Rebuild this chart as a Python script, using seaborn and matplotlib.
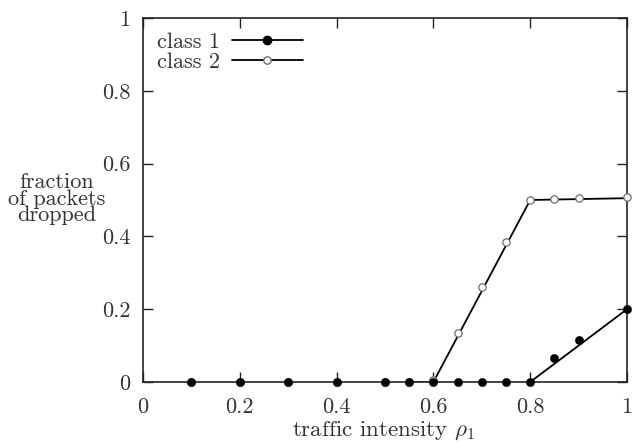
import matplotlib
matplotlib.use("Agg")
import matplotlib.pyplot as plt
import seaborn as sns
import pandas as pd
from matplotlib.lines import Line2D

# data
rho = [0.1, 0.2, 0.3, 0.4, 0.5, 0.55, 0.6, 0.65, 0.7, 0.75, 0.8, 0.85, 0.9, 1.0]
class1 = [0, 0, 0, 0, 0, 0, 0, 0, 0, 0, 0, 0.067, 0.115, 0.2]
class2 = [0, 0, 0, 0, 0, 0, 0.005, 0.135, 0.26, 0.385, 0.5, 0.502, 0.505, 0.507]
line1_x = [0.8, 1.0]
line1_y = [0.0, 0.2]
line2_x = [0.55, 0.6, 0.8, 1.0]
line2_y = [0.0, 0.0, 0.5, 0.505]
ticks = [0, 0.2, 0.4, 0.6, 0.8, 1]
tick_labels = ["0", "0.2", "0.4", "0.6", "0.8", "1"]

sns.set_style("ticks")
plt.rcParams["font.family"] = ["cmr10", "DejaVu Serif"]
plt.rcParams["mathtext.fontset"] = "cm"
plt.rcParams["axes.formatter.use_mathtext"] = True

FS = 16
fig = plt.figure(figsize=(6.33, 4.43), dpi=100)
L, R, T, B = 143, 627, 18, 382
ax = fig.add_axes([L / 633, 1 - B / 443, (R - L) / 633, (B - T) / 443])

df1 = pd.DataFrame({"x": line1_x, "y": line1_y})
df2 = pd.DataFrame({"x": line2_x, "y": line2_y})
sns.lineplot(data=df2, x="x", y="y", ax=ax, color="black", linewidth=1.3, sort=False)
sns.lineplot(data=df1, x="x", y="y", ax=ax, color="black", linewidth=1.3, sort=False)

p2 = pd.DataFrame({"x": rho, "y": class2})
p1 = pd.DataFrame({"x": rho, "y": class1})
sns.scatterplot(data=p2, x="x", y="y", ax=ax, s=28, facecolor="white",
                edgecolor="#6e6e6e", linewidth=0.9, marker="o", zorder=3, clip_on=False)
sns.scatterplot(data=p1, x="x", y="y", ax=ax, s=36, color="black",
                edgecolor="black", linewidth=0.3, marker="o", zorder=4, clip_on=False)

ax.set_xlim(0, 1)
ax.set_ylim(0, 1)
ax.set_xticks(ticks)
ax.set_xticklabels(tick_labels)
ax.set_yticks(ticks)
ax.set_yticklabels(tick_labels)
ax.tick_params(direction="in", length=7, width=1, top=True, right=True,
               labelsize=FS, colors="#222222", labelcolor="#333333")
ax.tick_params(axis="x", pad=11)
ax.tick_params(axis="y", pad=9)
for s in ax.spines.values():
    s.set_visible(True)
    s.set_linewidth(1.2)
    s.set_color("#222222")

ax.set_xlabel("")
ax.set_ylabel("")
fig.text(383 / 633, 1 - 436 / 443, r"traffic intensity $\rho_1$", ha="center",
         va="baseline", fontsize=16.5, color="#333333")
fig.text(57 / 633, 1 - 199 / 443, "fraction\nof packets\ndropped", ha="center",
         va="center", fontsize=FS, color="#333333", linespacing=0.8)

h1 = Line2D([], [], color="black", linewidth=1.3, marker="o", markersize=6,
            markerfacecolor="black", markeredgecolor="black")
h2 = Line2D([], [], color="black", linewidth=1.3, marker="o", markersize=5.3,
            markerfacecolor="white", markeredgecolor="#6e6e6e")
leg = ax.legend([h1, h2], ["class 1", "class 2"], loc="upper left", frameon=False,
                markerfirst=False, handlelength=3.2, handletextpad=0.5,
                fontsize=FS, labelspacing=0.0, borderaxespad=0.25,
                bbox_to_anchor=(0.0, 1.0))
for t in leg.get_texts():
    t.set_color("#333333")

fig.savefig("out.png", dpi=100)
